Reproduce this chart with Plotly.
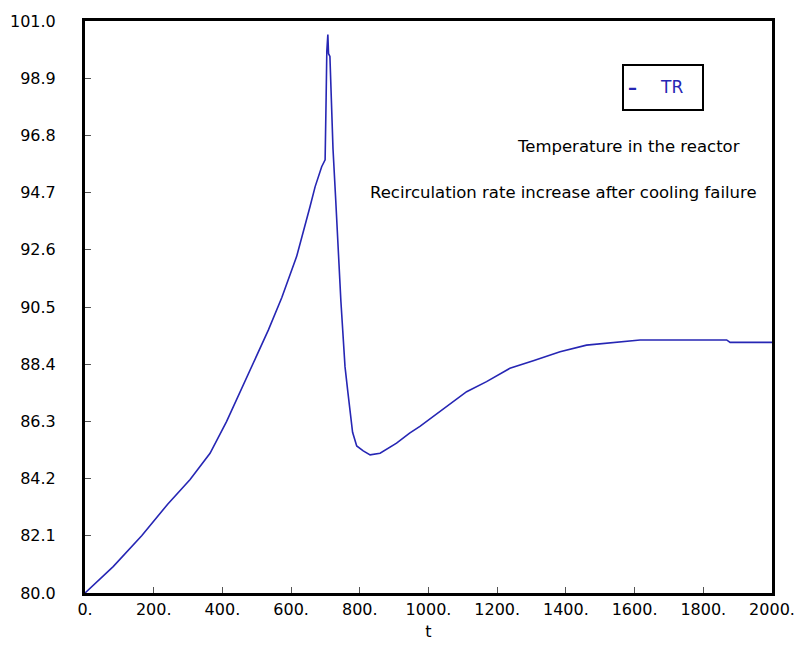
import plotly.graph_objects as go

# Data
t = [0, 82, 165, 240, 306, 364, 412, 480, 534, 573, 616, 655, 670, 689, 699,
     702, 704, 707, 709, 713, 717, 722, 730, 737, 745, 750, 757, 765, 772, 779, 791, 810, 830,
     859, 907, 945, 975, 1033, 1111, 1169, 1237, 1305, 1383, 1460, 1538, 1616, 1868,
     1878, 2000]
TR = [80.0, 80.97, 82.1, 83.25, 84.17, 85.13, 86.29, 88.19, 89.66, 90.85, 92.35,
      94.18, 94.92, 95.65, 95.9, 98.2, 99.9, 100.5, 99.8, 99.7, 98.2, 96.3, 94.4, 92.4,
      90.7, 89.7, 88.3, 87.4, 86.6, 85.9, 85.4, 85.22, 85.07, 85.13, 85.5, 85.87, 86.12,
      86.66, 87.39, 87.76, 88.25, 88.53, 88.86, 89.10, 89.2, 89.29, 89.29, 89.2, 89.2]

x_ticks = [0, 200, 400, 600, 800, 1000, 1200, 1400, 1600, 1800, 2000]
x_tick_labels = ["0.", "200.", "400.", "600.", "800.", "1000.", "1200.", "1400.",
                 "1600.", "1800.", "2000."]
y_ticks = [80.0, 82.1, 84.2, 86.3, 88.4, 90.5, 92.6, 94.7, 96.8, 98.9, 101.0]
y_tick_labels = ["80.0", "82.1", "84.2", "86.3", "88.4", "90.5", "92.6", "94.7",
                 "96.8", "98.9", "101.0"]

FONT = "DejaVu Sans, Liberation Sans, sans-serif"
BLUE = "#2626b4"
FS = 16

L, R, T, B = 85, 772, 21, 593
def px(x):
    return (x - L) / (R - L)
def py(y):
    return (B - y) / (B - T)

fig = go.Figure()
fig.add_trace(go.Scatter(x=t, y=TR, mode="lines", name="TR",
                         line=dict(color=BLUE, width=1.6), showlegend=False))

fig.update_layout(
    width=807, height=645,
    margin=dict(l=L, r=807 - R, t=T, b=645 - B, autoexpand=False),
    paper_bgcolor="white", plot_bgcolor="white",
    font=dict(family=FONT, size=FS, color="black"),
    xaxis=dict(range=[0, 2000], tickvals=x_ticks, ticktext=x_tick_labels,
               showgrid=False, zeroline=False, showline=True, linecolor="black",
               linewidth=3, mirror=True, ticks="inside", ticklen=6, tickcolor="#555",
               tickwidth=1, tickfont=dict(size=FS), automargin=False,
               title=dict(text="t", font=dict(size=FS), standoff=8)),
    yaxis=dict(range=[80, 101], tickvals=y_ticks, ticktext=y_tick_labels,
               showgrid=False, zeroline=False, showline=True, linecolor="black",
               linewidth=3, mirror=True, ticks="inside", ticklen=6, tickcolor="#555",
               tickwidth=1, tickfont=dict(size=FS), ticklabelstandoff=23,
               automargin=False),
    shapes=[
        dict(type="rect", xref="paper", yref="paper",
             x0=px(623), x1=px(703), y0=py(110), y1=py(65),
             line=dict(color="black", width=2), fillcolor="white", layer="above"),
    ],
    annotations=[
        dict(xref="paper", yref="paper", x=px(632), y=py(87), text="<b>–</b>",
             showarrow=False, font=dict(size=18, color=BLUE),
             xanchor="center", yanchor="middle"),
        dict(xref="paper", yref="paper", x=px(671), y=py(87), text="TR",
             showarrow=False, font=dict(size=FS + 1, color=BLUE),
             xanchor="center", yanchor="middle"),
        dict(xref="paper", yref="paper", x=px(742), y=py(146),
             text="Temperature in the reactor", showarrow=False,
             font=dict(size=16.5), xanchor="right", yanchor="middle"),
        dict(xref="paper", yref="paper", x=px(759), y=py(192),
             text="Recirculation rate increase after cooling failure", showarrow=False,
             font=dict(size=16.5), xanchor="right", yanchor="middle"),
    ],
)

fig.write_html("out.html")
